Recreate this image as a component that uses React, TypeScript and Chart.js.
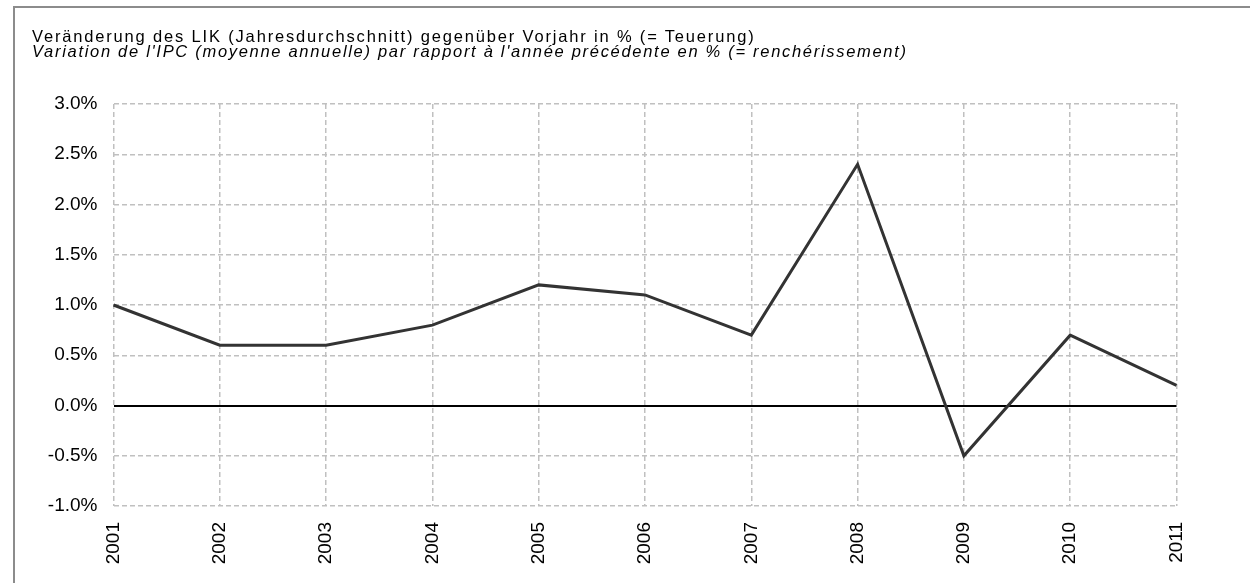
import React, { useEffect, useRef } from "react";
import { Chart, registerables } from "chart.js";

Chart.register(...registerables);

const years = ["2001", "2002", "2003", "2004", "2005", "2006", "2007", "2008", "2009", "2010", "2011"];
const inflation = [1.0, 0.6, 0.6, 0.8, 1.2, 1.1, 0.7, 2.4, -0.5, 0.7, 0.2];
const yMin = -1.0;
const yMax = 3.0;
const yStep = 0.5;
const titleDe = "Veränderung des LIK (Jahresdurchschnitt) gegenüber Vorjahr in % (= Teuerung)";
const titleFr = "Variation de l'IPC (moyenne annuelle) par rapport à l'année précédente en % (= renchérissement)";

const FONT = "'Liberation Sans', Arial, Helvetica, sans-serif";

export default function App() {
  const canvasRef = useRef<HTMLCanvasElement | null>(null);

  useEffect(() => {
    const canvas = canvasRef.current;
    if (!canvas) return;
    const chart = new Chart(canvas, {
      type: "line",
      data: {
        labels: years,
        datasets: [
          {
            data: inflation,
            borderColor: "#333333",
            borderWidth: 3,
            pointRadius: 0,
            pointHoverRadius: 0,
            tension: 0,
            fill: false,
          },
        ],
      },
      options: {
        responsive: false,
        animation: false,
        layout: { padding: { left: 0, right: 73.5, top: 104, bottom: 0 } },
        plugins: {
          legend: { display: false },
          title: { display: false },
          tooltip: { enabled: false },
        },
        scales: {
          x: {
            type: "category",
            offset: false,
            grid: {
              color: "#c0c0c0",
              lineWidth: 1.5,
              drawTicks: false,
            },
            border: { display: false, dash: [5, 3] },
            ticks: {
              minRotation: 90,
              maxRotation: 90,
              padding: 16,
              color: "#000000",
              font: { family: FONT, size: 19 },
            },
            afterFit: (scale: any) => {
              scale.height = 77;
            },
          },
          y: {
            min: yMin,
            max: yMax,
            grid: {
              color: (ctx: any) => (ctx.tick && ctx.tick.value === 0 ? "#000000" : "#c0c0c0"),
              lineWidth: (ctx: any) => (ctx.tick && ctx.tick.value === 0 ? 2 : 1.5),
              drawTicks: false,
            },
            border: {
              display: false,
              dash: (ctx: any) => (ctx.tick && ctx.tick.value === 0 ? [] : [5, 3]),
            },
            ticks: {
              stepSize: yStep,
              padding: 16,
              color: "#000000",
              font: { family: FONT, size: 19 },
              callback: (v: any) => Number(v).toFixed(1) + "%",
            },
            afterFit: (scale: any) => {
              scale.width = 113.5;
            },
          },
        },
      },
    });
    return () => chart.destroy();
  }, []);

  return (
    <div
      style={{
        position: "absolute",
        left: 0,
        top: 0,
        width: 1250,
        height: 583,
        overflow: "hidden",
        background: "#ffffff",
        fontFamily: FONT,
      }}
    >
      <div
        style={{
          position: "absolute",
          left: 13,
          top: 6,
          width: 1400,
          height: 800,
          borderTop: "2px solid #8c8c8c",
          borderLeft: "2px solid #8c8c8c",
        }}
      />
      <canvas
        ref={canvasRef}
        width={1250}
        height={583}
        style={{ position: "absolute", left: 0, top: 0, width: 1250, height: 583 }}
      />
      <div
        style={{
          position: "absolute",
          left: 32,
          top: 28.3,
          fontSize: 16.5,
          lineHeight: "16.5px",
          letterSpacing: "1.83px",
          whiteSpace: "nowrap",
          color: "#000",
        }}
      >
        {titleDe}
      </div>
      <div
        style={{
          position: "absolute",
          left: 32,
          top: 43.3,
          fontSize: 16.5,
          lineHeight: "16.5px",
          letterSpacing: "1.7px",
          fontStyle: "italic",
          whiteSpace: "nowrap",
          color: "#000",
        }}
      >
        {titleFr}
      </div>
    </div>
  );
}
